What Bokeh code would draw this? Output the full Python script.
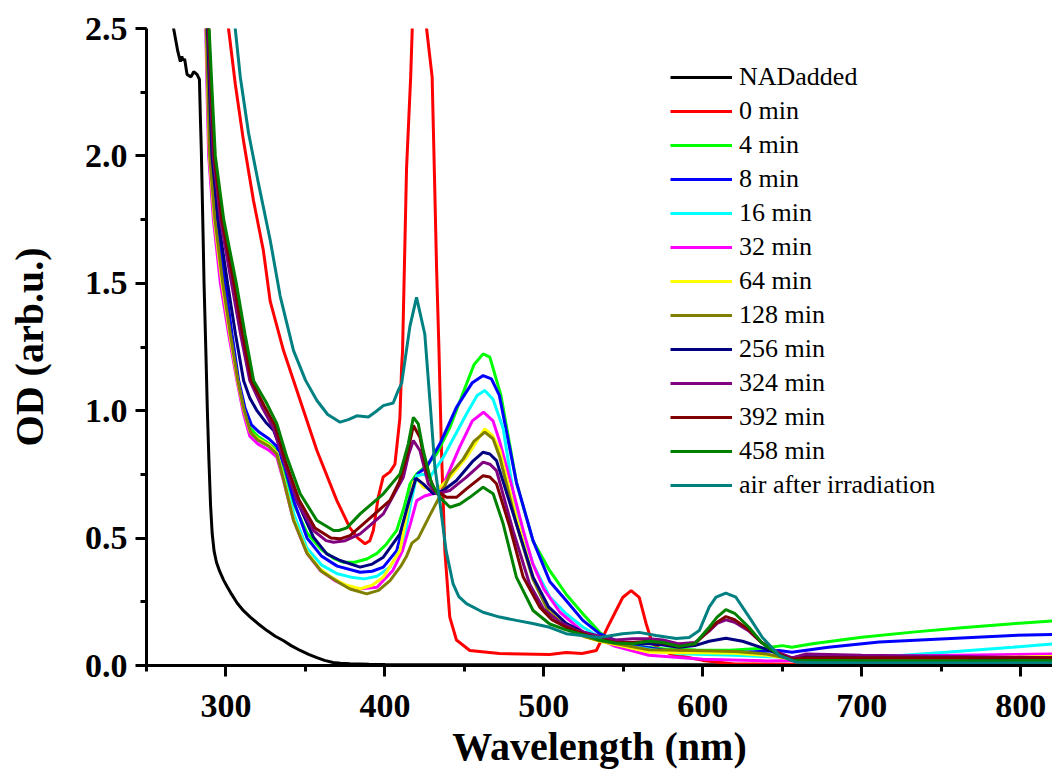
from bokeh.plotting import figure
from bokeh.models import Range1d, SingleIntervalTicker, PrintfTickFormatter, Legend, LegendItem
from bokeh.embed import file_html
from bokeh.resources import INLINE

# ---------------- data ----------------
wl_nad = [264, 267.2, 269.7, 271.3, 272.2, 273, 274, 275.5, 278, 279.7, 281.8, 283.3, 283.9, 284.5, 285.6, 286.2, 287.4, 288.3, 289.3, 290.3, 291.3, 292.5, 294, 296, 298.5, 300.7, 303.5, 307, 311, 315.3, 320, 325.8, 331, 336, 341, 346.7, 352, 357.2, 362, 367.4, 372, 378, 390, 400, 500, 600, 700, 820]
od_nad = [2.62, 2.495, 2.41, 2.37, 2.39, 2.375, 2.38, 2.32, 2.31, 2.33, 2.32, 2.30, 2.15, 2.02, 1.69, 1.50, 1.22, 1.00, 0.80, 0.63, 0.52, 0.45, 0.405, 0.37, 0.335, 0.31, 0.28, 0.245, 0.215, 0.19, 0.165, 0.137, 0.115, 0.098, 0.078, 0.059, 0.044, 0.031, 0.02, 0.012, 0.009, 0.007, 0.005, 0.004, 0.003, 0.003, 0.003, 0.003]

wl_0 = [299, 301.7, 305.9, 311, 317.3, 323.5, 327.8, 336.2, 346.7, 357.2, 369.7, 378, 383, 387.5, 390.5, 392.7, 395.8, 398.9, 403.2, 406.3, 409.4, 410.5, 411.1, 413.6, 416.2, 417.2, 421.5, 426.2, 429.7, 430.8, 432.5, 434, 435.6, 437.7, 440.8, 445, 453.4, 472, 503.6, 514, 524, 533, 541.3, 549.6, 554.9, 560, 564.3, 568.3, 574.5, 580, 600, 620, 700, 820]
od_0 = [2.65, 2.495, 2.28, 2.06, 1.825, 1.63, 1.43, 1.236, 1.04, 0.844, 0.648, 0.54, 0.50, 0.478, 0.49, 0.53, 0.66, 0.74, 0.76, 0.79, 0.97, 1.17, 1.236, 1.95, 2.31, 2.5, 3.2, 2.5, 2.31, 2.02, 1.56, 1.24, 0.84, 0.45, 0.19, 0.10, 0.059, 0.047, 0.043, 0.051, 0.047, 0.059, 0.165, 0.267, 0.294, 0.267, 0.165, 0.086, 0.059, 0.045, 0.02, 0.006, 0.004, 0.004]

wl_4 = [287.2, 287.8, 288.9, 290.1, 293.5, 298.5, 303, 307.5, 311.5, 315.5, 320, 327, 332, 336, 343, 351, 360, 368, 374, 381, 388.6, 395, 401, 407.4, 412, 415.8, 420, 426.2, 432.5, 440.9, 451.3, 456, 461.8, 466, 473, 482.7, 493.1, 503.6, 514, 524.5, 535, 543, 554, 575, 596, 617, 638, 650, 656, 669, 700, 732, 763, 795, 820]
od_4 = [2.6, 2.5, 2.25, 2.0, 1.75, 1.5, 1.3, 1.118, 1.0, 0.93, 0.90, 0.87, 0.845, 0.77, 0.63, 0.52, 0.455, 0.42, 0.405, 0.405, 0.418, 0.44, 0.477, 0.53, 0.62, 0.713, 0.752, 0.785, 0.83, 0.935, 1.105, 1.18, 1.223, 1.21, 1.06, 0.72, 0.49, 0.373, 0.28, 0.203, 0.131, 0.095, 0.078, 0.066, 0.061, 0.06, 0.068, 0.078, 0.072, 0.085, 0.111, 0.131, 0.148, 0.164, 0.175]

wl_8 = [287.4, 288.0, 289.2, 290.5, 294.1, 299.5, 303.8, 308, 312, 316, 321, 327, 332, 337, 343, 351, 360, 370, 384.4, 392, 399, 407.4, 412, 417.9, 421, 426.2, 434.6, 445, 455, 461.8, 467, 472, 482.7, 493.2, 503.7, 514, 524.5, 535, 545.5, 560, 585, 627, 648, 656, 679, 711, 753, 795, 820]
od_8 = [2.6, 2.5, 2.25, 2.0, 1.75, 1.5, 1.3, 1.118, 1.01, 0.945, 0.915, 0.89, 0.86, 0.78, 0.64, 0.50, 0.43, 0.39, 0.366, 0.37, 0.386, 0.451, 0.56, 0.72, 0.755, 0.778, 0.87, 1.013, 1.11, 1.138, 1.125, 1.06, 0.72, 0.49, 0.33, 0.255, 0.177, 0.125, 0.098, 0.075, 0.052, 0.052, 0.059, 0.052, 0.072, 0.092, 0.105, 0.118, 0.122]

wl_16 = [286.9, 287.5, 288.4, 289.4, 292.4, 297, 302.1, 307.2, 311.2, 315.2, 320, 327, 332, 336, 343, 351, 360, 370, 380, 387, 395, 403.2, 411.6, 416, 420, 424, 428.3, 436.7, 451.3, 458, 462.8, 468, 474.4, 482.7, 493, 503.6, 514, 524.5, 535, 550, 585, 620, 648, 669, 711, 753, 795, 820]
od_16 = [2.6, 2.5, 2.25, 2.0, 1.75, 1.5, 1.3, 1.118, 1.0, 0.915, 0.885, 0.86, 0.835, 0.745, 0.59, 0.46, 0.395, 0.36, 0.345, 0.34, 0.35, 0.386, 0.477, 0.63, 0.745, 0.75, 0.739, 0.817, 0.987, 1.06, 1.079, 1.045, 0.93, 0.60, 0.40, 0.27, 0.203, 0.151, 0.111, 0.08, 0.046, 0.04, 0.033, 0.022, 0.033, 0.052, 0.072, 0.085]

wl_32 = [286.7, 287.3, 288.1, 289.1, 292.1, 296.5, 301.7, 306.9, 311, 315, 320, 327, 332, 336, 342.5, 351, 359, 368, 376, 383, 395, 405, 411, 416, 420, 425, 430, 437, 447, 455, 462, 468, 472, 480, 487, 493, 500, 510, 525, 545, 566, 600, 640, 660, 700, 760, 820]
od_32 = [2.6, 2.5, 2.25, 2.0, 1.75, 1.5, 1.3, 1.118, 0.99, 0.90, 0.87, 0.845, 0.818, 0.73, 0.57, 0.44, 0.375, 0.335, 0.31, 0.30, 0.307, 0.373, 0.45, 0.556, 0.647, 0.665, 0.674, 0.713, 0.857, 0.96, 0.994, 0.96, 0.883, 0.70, 0.53, 0.40, 0.30, 0.21, 0.13, 0.075, 0.04, 0.025, 0.018, 0.02, 0.035, 0.04, 0.045]

wl_64 = [287.0, 287.6, 288.5, 289.6, 292.7, 297.5, 302.4, 307.3, 311.3, 315.3, 320, 327, 332, 336, 342.5, 351, 359, 368, 376, 384.4, 392, 399, 409.5, 414, 417.9, 420.3, 424.1, 432.5, 440.9, 451.3, 462.8, 468, 472.3, 482.7, 493, 503, 514, 525, 535, 550, 566, 585, 600, 620, 640, 656, 680, 760, 820]
od_64 = [2.6, 2.5, 2.25, 2.0, 1.75, 1.5, 1.3, 1.118, 1.0, 0.915, 0.89, 0.865, 0.835, 0.74, 0.575, 0.445, 0.38, 0.34, 0.315, 0.301, 0.315, 0.347, 0.451, 0.60, 0.72, 0.733, 0.70, 0.687, 0.739, 0.817, 0.929, 0.90, 0.844, 0.582, 0.35, 0.22, 0.15, 0.115, 0.095, 0.075, 0.053, 0.05, 0.05, 0.048, 0.04, 0.025, 0.025, 0.03, 0.035]

wl_128 = [287.1, 287.7, 288.7, 289.8, 293.1, 298, 302.8, 307.5, 311.5, 315.5, 320, 327, 332, 336, 342.5, 351, 360, 370, 378, 388.6, 396, 403.2, 410, 413.7, 417, 421, 428.3, 436.7, 440.8, 449.2, 456, 462.8, 468, 472.3, 482.7, 493, 503, 514, 525, 535, 550, 566, 585, 600, 620, 640, 656, 680, 760, 820]
od_128 = [2.6, 2.5, 2.25, 2.0, 1.75, 1.5, 1.3, 1.118, 1.0, 0.915, 0.885, 0.86, 0.83, 0.735, 0.57, 0.44, 0.37, 0.33, 0.30, 0.281, 0.295, 0.333, 0.39, 0.43, 0.48, 0.50, 0.59, 0.69, 0.75, 0.81, 0.88, 0.916, 0.89, 0.817, 0.556, 0.34, 0.21, 0.15, 0.115, 0.097, 0.08, 0.062, 0.06, 0.058, 0.055, 0.045, 0.025, 0.02, 0.022, 0.025]

wl_256 = [287.7, 288.4, 289.7, 291.2, 295.1, 301, 306, 311.1, 315, 319.5, 325, 330, 336.2, 344.6, 355, 363.4, 371.8, 384.4, 392, 399, 409.5, 414, 419.5, 424.1, 430.4, 436.7, 445, 455, 461.8, 466, 470.2, 482.7, 493.2, 503, 514, 525, 535, 545, 556, 566, 575, 585, 595, 604, 614.5, 625, 637, 648, 656, 665, 700, 760, 820]
od_256 = [2.6, 2.5, 2.25, 2.0, 1.75, 1.5, 1.3, 1.118, 1.05, 1.0, 0.955, 0.922, 0.818, 0.648, 0.504, 0.438, 0.412, 0.386, 0.398, 0.425, 0.517, 0.62, 0.735, 0.713, 0.674, 0.687, 0.726, 0.80, 0.837, 0.83, 0.804, 0.556, 0.347, 0.23, 0.165, 0.13, 0.11, 0.095, 0.085, 0.085, 0.08, 0.072, 0.078, 0.095, 0.107, 0.095, 0.07, 0.045, 0.03, 0.035, 0.03, 0.03, 0.025]

wl_324 = [288.0, 288.8, 290.3, 292, 296.5, 303.5, 309.2, 315, 323, 330, 337, 345, 355, 363, 367.6, 375, 384.4, 399, 411.6, 415, 417.9, 422, 427.3, 432.5, 440.9, 451.3, 461.8, 466, 470.2, 480.6, 491, 500, 510, 520, 535, 545, 556, 566, 575, 585, 595, 604, 609, 614.5, 620, 629, 637, 648, 656, 665, 700, 760, 820]
od_324 = [2.6, 2.5, 2.25, 2.0, 1.75, 1.5, 1.3, 1.118, 1.01, 0.93, 0.79, 0.64, 0.53, 0.49, 0.484, 0.49, 0.517, 0.595, 0.739, 0.83, 0.883, 0.844, 0.713, 0.674, 0.687, 0.739, 0.798, 0.79, 0.765, 0.53, 0.32, 0.22, 0.17, 0.14, 0.115, 0.10, 0.105, 0.105, 0.10, 0.085, 0.09, 0.135, 0.165, 0.179, 0.17, 0.135, 0.09, 0.05, 0.03, 0.045, 0.04, 0.035, 0.03]

wl_392 = [288.2, 289.1, 290.8, 292.6, 297.4, 305, 310.5, 316, 324, 331, 337.5, 346, 356, 366, 371.8, 378, 386.5, 403.2, 409, 413.7, 417.9, 422, 426.2, 431.5, 438.8, 445, 451.3, 461.8, 466, 470.2, 478.6, 487, 497.4, 505, 514, 525, 535, 545, 556, 566, 575, 585, 595, 604, 609, 614.5, 620, 629, 637, 648, 656, 665, 700, 760, 820]
od_392 = [2.6, 2.5, 2.25, 2.0, 1.75, 1.5, 1.3, 1.118, 1.02, 0.94, 0.80, 0.65, 0.54, 0.50, 0.497, 0.51, 0.556, 0.648, 0.72, 0.818, 0.942, 0.896, 0.765, 0.687, 0.66, 0.66, 0.693, 0.745, 0.74, 0.713, 0.543, 0.347, 0.229, 0.18, 0.15, 0.125, 0.105, 0.09, 0.09, 0.095, 0.088, 0.075, 0.085, 0.14, 0.17, 0.192, 0.18, 0.14, 0.09, 0.045, 0.025, 0.03, 0.03, 0.03, 0.03]

wl_458 = [288.5, 289.4, 291.3, 293.3, 298.6, 306.5, 312, 317.4, 325.8, 332, 338.3, 346.7, 357.2, 367.7, 371, 376, 384.4, 399, 409.5, 414.7, 417.9, 421, 424.1, 429.4, 434.6, 440.9, 447.2, 453.4, 461.8, 468.1, 474.4, 482.7, 493.2, 503.7, 514, 525, 535, 545, 556, 566, 575, 585, 595, 604, 609, 614.5, 620, 629, 637, 648, 656, 660, 680, 720, 760, 820]
od_458 = [2.6, 2.5, 2.25, 2.0, 1.75, 1.5, 1.3, 1.118, 1.027, 0.949, 0.818, 0.674, 0.569, 0.53, 0.53, 0.54, 0.595, 0.674, 0.752, 0.87, 0.974, 0.948, 0.844, 0.713, 0.66, 0.621, 0.634, 0.66, 0.70, 0.674, 0.556, 0.347, 0.216, 0.163, 0.14, 0.12, 0.10, 0.088, 0.085, 0.095, 0.09, 0.075, 0.085, 0.15, 0.19, 0.219, 0.205, 0.15, 0.09, 0.04, 0.02, 0.02, 0.02, 0.018, 0.018, 0.02]

wl_air = [303, 305.9, 309, 314.2, 320.5, 327.8, 334.1, 342.5, 350, 357.2, 364, 371.8, 377, 382.3, 389.6, 394, 399, 405.2, 408.4, 410.5, 415.7, 419.9, 425.1, 428.3, 431.4, 435, 438.5, 442.9, 446.5, 451.3, 461.7, 472.2, 482.7, 493, 503.6, 514, 535, 549.5, 560, 570.6, 583.2, 591.4, 597.8, 604, 608.3, 614.5, 620.8, 629.2, 637.5, 648, 654.3, 658.5, 668.9, 700, 760, 820]
od_air = [2.65, 2.495, 2.31, 2.09, 1.89, 1.67, 1.45, 1.236, 1.12, 1.04, 0.985, 0.955, 0.965, 0.98, 0.975, 0.995, 1.02, 1.03, 1.08, 1.107, 1.33, 1.445, 1.30, 1.04, 0.78, 0.62, 0.45, 0.32, 0.27, 0.243, 0.209, 0.19, 0.177, 0.165, 0.15, 0.125, 0.11, 0.125, 0.13, 0.118, 0.106, 0.11, 0.137, 0.229, 0.268, 0.284, 0.268, 0.19, 0.11, 0.04, 0.025, 0.013, 0.012, 0.01, 0.01, 0.01]

labels = ["NADadded", "0 min", "4 min", "8 min", "16 min", "32 min", "64 min",
          "128 min", "256 min", "324 min", "392 min", "458 min", "air after irradiation"]
colors = ["#000000", "#FF0000", "#00FF00", "#0000FF", "#00FFFF", "#FF00FF", "#FFFF00",
          "#808000", "#000080", "#800080", "#800000", "#008000", "#008080"]
series_x = [wl_nad, wl_0, wl_4, wl_8, wl_16, wl_32, wl_64, wl_128, wl_256, wl_324, wl_392, wl_458, wl_air]
series_y = [od_nad, od_0, od_4, od_8, od_16, od_32, od_64, od_128, od_256, od_324, od_392, od_458, od_air]

# ---------------- figure ----------------
p = figure(width=1052, height=771, x_range=Range1d(250, 820), y_range=Range1d(0, 2.5),
           output_backend="svg", toolbar_location=None,
           min_border_left=146, min_border_right=0, min_border_top=28, min_border_bottom=106)
p.grid.visible = False
p.outline_line_color = None
p.background_fill_color = "white"
p.border_fill_color = "white"

FONT = "Liberation Serif"
for ax in (p.xaxis[0], p.yaxis[0]):
    ax.axis_line_width = 3
    ax.axis_line_color = "black"
    ax.major_tick_line_width = 3
    ax.minor_tick_line_width = 3
    ax.major_tick_in = 0
    ax.major_tick_out = 11
    ax.minor_tick_in = 0
    ax.minor_tick_out = 6
    ax.major_label_text_font = FONT
    ax.major_label_text_font_style = "bold"
    ax.major_label_text_font_size = "34px"
    ax.major_label_text_color = "black"
    ax.axis_label_text_font = FONT
    ax.axis_label_text_font_style = "bold"
    ax.axis_label_text_font_size = "40px"
    ax.axis_label_text_color = "black"

p.xaxis[0].ticker = SingleIntervalTicker(interval=100, num_minor_ticks=2)
p.yaxis[0].ticker = SingleIntervalTicker(interval=0.5, num_minor_ticks=2)
p.yaxis[0].formatter = PrintfTickFormatter(format="%.1f")
p.xaxis[0].axis_label = "Wavelength (nm)"
p.yaxis[0].axis_label = "OD (arb.u.)"
p.xaxis[0].major_label_standoff = 18
p.yaxis[0].major_label_standoff = 8
p.xaxis[0].axis_label_standoff = 4
p.yaxis[0].axis_label_standoff = 30

items = []
for xs, ys, c, lab in zip(series_x, series_y, colors, labels):
    r = p.line(xs, ys, line_color=c, line_width=3)
    items.append(LegendItem(label=lab, renderers=[r]))

legend = Legend(items=items, location=(524, 163))
legend.label_text_font = FONT
legend.label_text_font_size = "26px"
legend.label_text_color = "black"
legend.glyph_width = 62
legend.glyph_height = 34
legend.label_height = 34
legend.label_standoff = 7
legend.spacing = 0
legend.padding = 0
legend.margin = 0
legend.border_line_color = None
legend.background_fill_alpha = 0
p.add_layout(legend, "center")

open("out.html", "w").write(file_html(p, INLINE))
